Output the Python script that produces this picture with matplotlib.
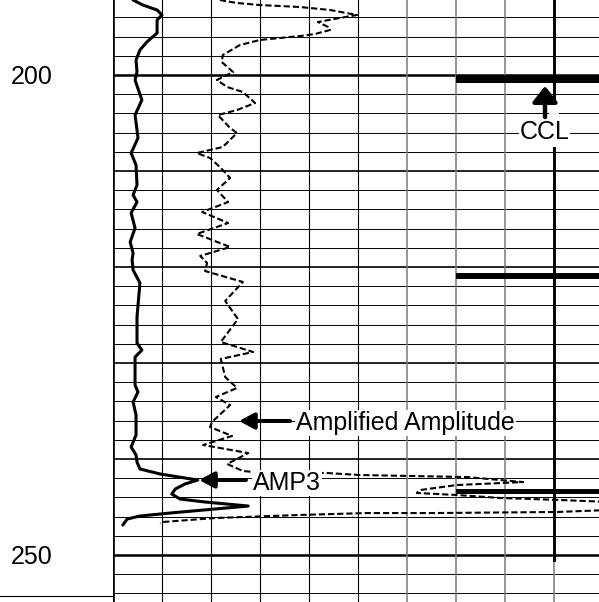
import matplotlib
matplotlib.use("Agg")
import matplotlib.pyplot as plt
import matplotlib.transforms as mtransforms
from matplotlib.lines import Line2D
from matplotlib.patches import Rectangle

# ── Data (depth in ft, values in track divisions 0..10) ─────────────────────
amp3_depth = [192.19, 192.71, 193.23, 193.75, 194.27, 195.10, 195.63, 196.56,
              197.40, 198.44, 199.69, 200.52, 202.60, 204.17, 205.73, 206.56,
              208.13, 209.38, 211.46, 212.50, 213.23, 214.38, 215.94, 217.40,
              218.54, 219.27, 220.31, 221.67, 225.21, 227.92, 228.65, 229.38,
              231.77, 232.29, 233.02, 234.06, 235.42, 237.50, 238.75, 239.58,
              240.31, 241.04, 241.56, 241.98, 242.19, 242.60, 243.13, 243.65,
              244.17, 244.48, 244.90, 245.21, 245.63, 245.94, 246.25, 246.88]
amp3_value = [0.41, 0.61, 0.90, 1.00, 0.90, 0.90, 0.90, 0.69,
              0.55, 0.47, 0.49, 0.45, 0.59, 0.45, 0.49, 0.51,
              0.37, 0.47, 0.49, 0.41, 0.49, 0.37, 0.45, 0.35,
              0.41, 0.39, 0.41, 0.55, 0.49, 0.49, 0.59, 0.45,
              0.45, 0.45, 0.51, 0.41, 0.47, 0.47, 0.37, 0.47,
              0.49, 0.55, 0.96, 1.47, 1.73, 1.47, 1.27, 1.20,
              1.37, 1.88, 2.76, 2.08, 1.16, 0.55, 0.29, 0.20]

amp_depth = [192.19, 192.50, 192.71, 192.92, 193.23, 193.75, 194.06, 194.48,
             195.00, 195.31, 195.73, 195.94, 196.35, 196.88, 197.92, 198.65,
             199.69, 200.52, 201.25, 201.77, 202.92, 203.65, 204.17, 205.52,
             206.04, 207.50, 208.13, 208.65, 209.58, 210.73, 211.98, 213.23,
             214.27, 215.42, 216.56, 217.92, 218.85, 219.58, 220.42, 221.56,
             223.54, 225.42, 227.81, 228.85, 229.58, 231.46, 232.60, 233.54,
             234.38, 236.15, 236.67, 237.60, 238.54, 239.38, 240.52, 241.25,
             241.35, 241.46, 241.67, 241.88, 242.40, 242.71, 243.23, 243.54,
             243.75, 244.06, 244.27, 244.48, 245.31, 245.52, 245.63, 245.63,
             245.83, 246.15, 246.56, 246.67]
amp_value = [2.18, 2.53, 3.00, 3.82, 4.43, 4.98, 4.63, 4.18,
             4.39, 4.43, 4.12, 3.82, 3.00, 2.59, 2.24, 2.22,
             2.45, 2.12, 2.33, 2.65, 2.90, 2.53, 2.14, 2.39,
             2.53, 2.24, 1.71, 1.98, 2.18, 2.39, 2.12, 2.35,
             1.82, 2.35, 1.71, 2.39, 1.78, 1.92, 1.88, 2.65,
             2.29, 2.55, 2.20, 2.86, 2.20, 2.29, 2.53, 2.10,
             2.39, 2.02, 1.98, 2.43, 1.84, 2.76, 2.33, 2.65,
             2.86, 4.37, 5.04, 7.22, 8.37, 7.02, 6.27, 6.20,
             7.02, 7.90, 9.12, 10.14, 10.14, 9.06, 6.53, 5.18,
             3.82, 2.08, 1.02, 0.96]

ccl_base = 9.0
ccl_top, ccl_bottom = 192.19, 250.5
collar_depth = [200.36, 220.90, 243.30]
collar_half = [0.22, 0.17, 0.12]
collar_left = 7.0
collar_right = 10.6

depth_labels = [200, 250]
# ─────────────────────────────────────────────────────────────────────────────

W, H = 599, 602
track_left = 113
div_px = 49.0
ft_px = 9.6
depth_top = 200 - 75 / ft_px
depth_bot = 200 + (H - 75) / ft_px

plt.rcParams["font.family"] = ["Liberation Sans", "DejaVu Sans"]

fig = plt.figure(figsize=(W / 100, H / 100), dpi=100)
ax = fig.add_axes([track_left / W, 0, 1 - track_left / W, 1])
ax.set_xlim(0, (W - track_left) / div_px)
ax.set_ylim(depth_bot, depth_top)
ax.axis("off")

# grid
for d in range(194, 256, 2):
    if d % 50 == 0:
        lw = 1.8
    elif d % 10 == 0:
        lw = 1.2
    else:
        lw = 0.7
    ax.axhline(d, color="black", lw=lw, zorder=1)
for k in range(1, 10):
    ax.axvline(k, color="black" if k <= 5 else "#7a7a7a",
               lw=0.8 if k <= 5 else 1.1, zorder=1)
ax.axvline(0, color="black", lw=1.9, zorder=4)

# curves
ax.plot(amp3_value, amp3_depth, color="black", lw=2.2,
        solid_joinstyle="round", solid_capstyle="round", zorder=3)
ax.plot(amp_value, amp_depth, color="black", lw=1.5,
        linestyle=(0, (3.0, 1.4)), zorder=2)

# CCL: baseline with collar kicks (three strokes per kick so they merge)
ccl_d, ccl_v = [ccl_top], [ccl_base]
for d, h in zip(collar_depth, collar_half):
    ccl_d += [d - h, d - h, d - h, d, d, d, d + h, d + h, d + h]
    ccl_v += [ccl_base, collar_left, collar_right, collar_right, collar_left,
              collar_right, collar_right, collar_left, ccl_base]
ccl_d.append(ccl_bottom)
ccl_v.append(ccl_base)
ax.plot(ccl_v, ccl_d, color="black", lw=2.1, solid_joinstyle="miter", zorder=3)


def px(x, y):
    return (x - track_left) / div_px, 200 + (y - 75) / ft_px


box = dict(facecolor="white", edgecolor="none", boxstyle="square,pad=0.03")
fs = 18

# white gap in CCL line around its label
x0, y0 = px(549, 100)
x1, y1 = px(559, 147)
ax.add_patch(Rectangle((x0, y0), x1 - x0, y1 - y0, facecolor="white",
                       edgecolor="none", zorder=5))

# labels
x, y = px(544.5, 139)
ax.text(x, y, "CCL", fontsize=fs, ha="center", va="baseline", bbox=box, zorder=6)
x, y = px(296, 430)
ax.text(x, y, "Amplified Amplitude", fontsize=fs, ha="left", va="baseline",
        bbox=box, zorder=6)
x, y = px(253, 490)
ax.text(x, y, "AMP3", fontsize=fs, ha="left", va="baseline", bbox=box, zorder=6)

# arrows
ax.annotate("", xy=px(545, 86), xytext=px(545, 117),
            arrowprops=dict(arrowstyle="-|>,head_length=9.5,head_width=7.5",
                            mutation_scale=1, lw=3.2, color="black",
                            shrinkA=0, shrinkB=0),
            zorder=7)
ax.annotate("", xy=px(239, 421), xytext=px(290, 421),
            arrowprops=dict(arrowstyle="-|>,head_length=9,head_width=4.8",
                            mutation_scale=1, lw=2.9, color="black",
                            shrinkA=0, shrinkB=0),
            zorder=7)
ax.annotate("", xy=px(199, 480), xytext=px(246, 480),
            arrowprops=dict(arrowstyle="-|>,head_length=9,head_width=4.8",
                            mutation_scale=1, lw=2.9, color="black",
                            shrinkA=0, shrinkB=0),
            zorder=7)

# depth labels in the left column
trans = mtransforms.blended_transform_factory(fig.transFigure, ax.transData)
for d in depth_labels:
    ax.annotate(f"{d}", xy=(32 / W, d), xycoords=trans, xytext=(0, -6.5),
                textcoords="offset points", fontsize=fs, ha="center",
                va="baseline", annotation_clip=False)

fig.add_artist(Line2D([0, track_left / W], [1 - 596 / H] * 2,
                      transform=fig.transFigure, color="black", lw=0.8))

fig.savefig("out.png", dpi=100)
